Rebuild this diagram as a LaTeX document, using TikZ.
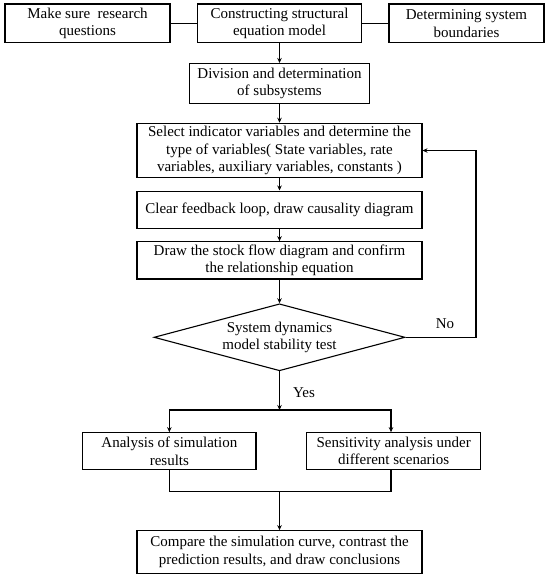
\documentclass[tikz,border=0pt]{standalone}
\usepackage{fontspec}
\setmainfont{Liberation Serif}
\usetikzlibrary{arrows.meta,shapes.geometric}
\begin{document}
\begin{tikzpicture}[x=1pt,y=-1pt,
  every node/.style={font=\fontsize{15}{17.6}\selectfont},
  box/.style={draw,line width=1.1pt,rectangle,inner sep=0pt,align=center},
  conn/.style={line width=1.1pt},
  arr/.style={line width=1.1pt,-{Stealth[length=5pt,width=4.5pt]}},
  lbl/.style={inner sep=0pt}]
\useasboundingbox (0,0) rectangle (550,579);
\node[box,minimum width=165pt,minimum height=38.7pt] (b1) at (87.5,23.35) {Make sure~ research\\questions};
\node[box,minimum width=164.6pt,minimum height=38.7pt] (b2) at (279.5,23.35) {Constructing structural\\equation model};
\node[box,minimum width=155pt,minimum height=38.7pt] (b3) at (466.5,23.35) {Determining system\\boundaries};
\node[box,minimum width=179.7pt,minimum height=40pt] (b4) at (279.5,83.5) {Division and determination\\of subsystems};
\node[box,minimum width=285pt,minimum height=54.4pt] (b5) at (279.5,150.5) {Select indicator variables and determine the\\type of variables( State variables, rate\\variables, auxiliary variables, constants )};
\node[box,minimum width=285pt,minimum height=37.3pt] (b6) at (279.5,209.7) {Clear feedback loop, draw causality diagram};
\node[box,minimum width=285pt,minimum height=37.3pt] (b7) at (279.5,260.35) {Draw the stock flow diagram and confirm\\the relationship equation};
\node[draw,line width=1.1pt,diamond,inner sep=0pt,minimum width=251pt,minimum height=67pt,
  label={[align=center,font=\fontsize{15}{17.6}\selectfont]center:System dynamics\\model stability test}] (dia) at (279.5,337.3) {};
\node[box,minimum width=173.3pt,minimum height=36.6pt] (b8) at (169.35,451) {Analysis of simulation\\results};
\node[box,minimum width=174pt,minimum height=36.6pt] (b9) at (393.7,451) {Sensitivity analysis under\\different scenarios};
\node[box,minimum width=285pt,minimum height=42.6pt] (b10) at (279.5,552) {Compare the simulation curve, contrast the\\prediction results, and draw conclusions};
\node[lbl] (no) at (445,323.3) {No};
\node[lbl] (yes) at (304,392.7) {Yes};
\coordinate (split) at (279.5,410);
\coordinate (join) at (279.5,491.7);
\coordinate (fb) at (476,337.3);
\draw[conn] (b1.east) -- (b2.west);
\draw[conn] (b2.east) -- (b3.west);
\draw[arr] (b2.south) -- (b4.north);
\draw[arr] (b4.south) -- (b5.north);
\draw[arr] (b5.south) -- (b6.north);
\draw[arr] (b6.south) -- (b7.north);
\draw[arr] (b7.south) -- (dia.north);
\draw[arr] (dia.east) -- (fb) |- (b5.east);
\draw[arr] (dia.south) -- (split);
\draw[arr] (split) -| (b8.north);
\draw[arr] (split) -| ([xshift=-2.7pt]b9.north);
\draw[conn] (b8.south) |- (join);
\draw[conn] ([xshift=-2.7pt]b9.south) |- (join);
\draw[arr] (join) -- (b10.north);
\end{tikzpicture}
\end{document}
